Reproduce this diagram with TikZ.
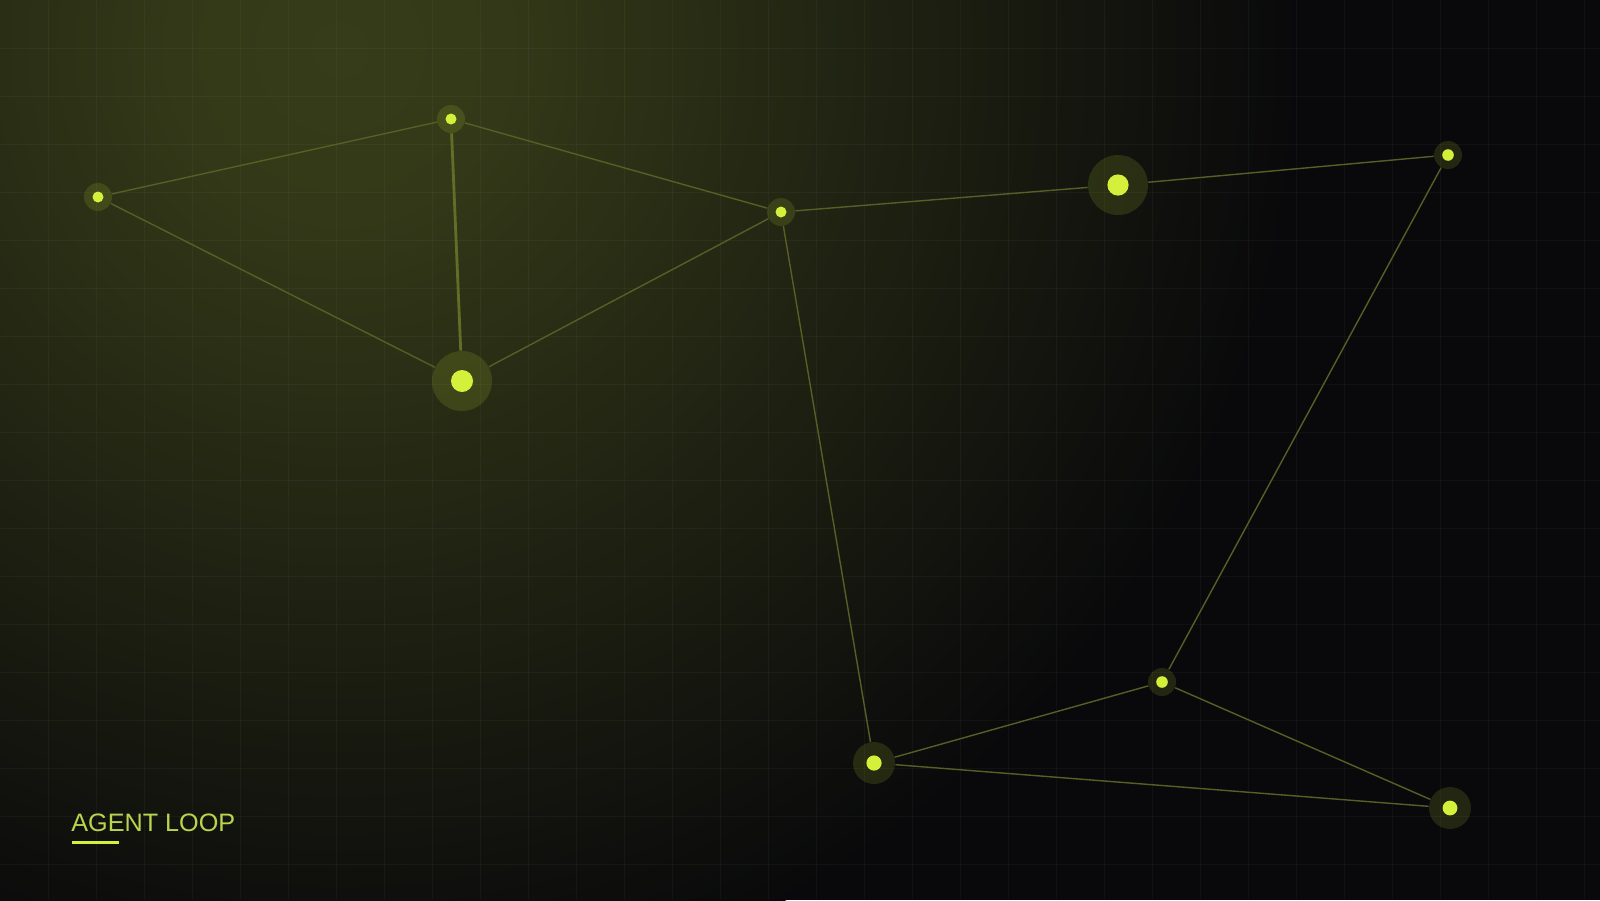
\documentclass[tikz,border=0pt]{standalone}
\usepackage{fontspec}
\setmainfont{Liberation Sans}
\usepackage{tikz}
\usetikzlibrary{positioning}

\definecolor{bgc}{HTML}{09090B}
\definecolor{glowc}{HTML}{363C19}
\definecolor{dotc}{HTML}{D4F03A}
\definecolor{linkc}{HTML}{585E26}
\definecolor{labelc}{HTML}{B9D44E}

\pgfdeclareradialshading[glowc,bgc]{glow}{\pgfpoint{0bp}{0bp}}{%
  color(0bp)=(glowc); color(4bp)=(glowc!94!bgc); color(25bp)=(bgc); color(50bp)=(bgc)}

\begin{document}
\begin{tikzpicture}[x=0.5pt, y=-0.5pt]

% --- Define Styles ---
\tikzstyle{halo} = [circle, inner sep=0pt, fill=dotc, fill opacity=0.13]
\tikzstyle{small} = [halo, minimum size=14pt]
\tikzstyle{medium} = [halo, minimum size=21pt]
\tikzstyle{large} = [halo, minimum size=30pt]
\tikzstyle{link} = [draw=linkc, line width=0.7pt]
\tikzstyle{gridline} = [draw=white, draw opacity=0.035, line width=0.5pt]

% --- Background ---
\useasboundingbox (0,0) rectangle (1600,900);
\begin{scope}
\clip (0,0) rectangle (1600,900);
\fill[bgc] (0,0) rectangle (1600,900);
\shade[shading=glow] (340,50) circle (480pt);
\foreach \x in {48,96,...,1584} \draw[gridline] (\x,0) -- (\x,900);
\foreach \y in {48,96,...,864} \draw[gridline] (0,\y) -- (1600,\y);
\end{scope}

% --- Nodes ---
\node (sense) [small] at (98,197) {};
\node (recall) [small] at (451,119) {};
\node (reason) [large] at (462,381) {};
\node (route) [small] at (781,212) {};
\node (plan) [large] at (1118,185) {};
\node (tool) [small] at (1448,155) {};
\node (act) [medium] at (874,763) {};
\node (check) [small] at (1162,682) {};
\node (store) [medium] at (1450,808) {};

\foreach \n/\r in {sense/2.75pt, recall/2.75pt, reason/5.5pt, route/2.75pt, plan/5.3pt, tool/2.9pt, act/3.8pt, check/2.9pt, store/3.7pt}
  \fill[dotc] (\n) circle (\r);

% --- Links ---
\draw [link] (sense) -- (recall);
\draw [link] (sense) -- (reason);
\draw [link, line width=1.4pt, draw=linkc!90!dotc] (recall) -- (reason);
\draw [link] (recall) -- (route);
\draw [link] (reason) -- (route);
\draw [link] (route) -- (plan);
\draw [link] (plan) -- (tool);
\draw [link] (route) -- (act);
\draw [link] (act) -- (check);
\draw [link] (act) -- (store);
\draw [link] (check) -- (store);
\draw [link] (check) -- (tool);

% --- Label ---
\node (title) [anchor=base west, inner sep=0pt, text=labelc, font=\fontsize{12.6}{14}\selectfont] at (71,831) {AGENT LOOP};
\draw [dotc, line width=1.5pt] (title.base west) ++(1,11) coordinate (barL) -- ++(47,0);

\end{tikzpicture}
\end{document}
